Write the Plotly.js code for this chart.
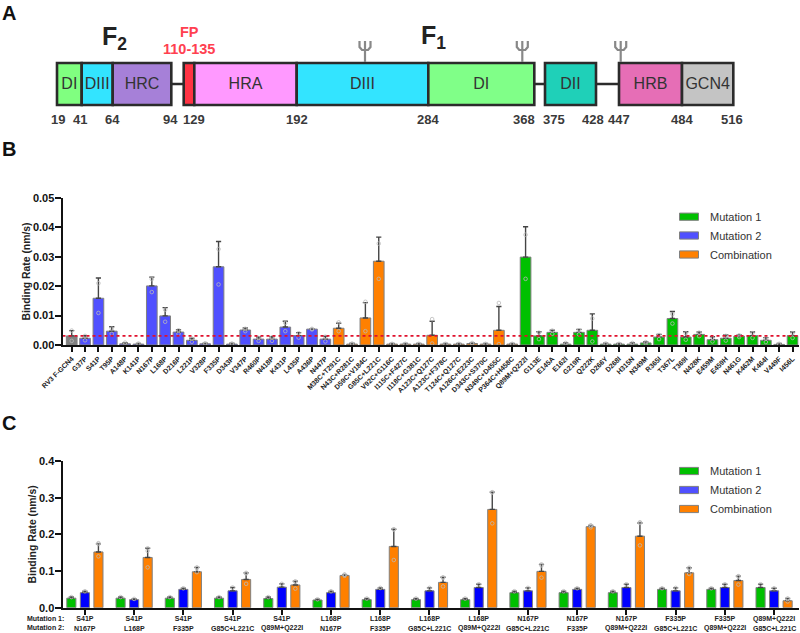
<!DOCTYPE html>
<html>
<head>
<meta charset="utf-8">
<script src="https://cdn.plot.ly/plotly-3.0.1.min.js"></script>
<style>html,body{margin:0;padding:0;background:#fff}#chart{width:800px;height:633px}</style>
</head>
<body>
<div id="chart"></div>
<script>
// ---------- Panel A: construct schematic ----------
const domainLabels = ["DI","DIII","HRC","FP segment","HRA","DIII","DI","DII","HRB","GCN4"];
const domainStart  = [57,81.7,112.7,183.7,194.3,296.7,428.3,545,619,682];
const domainEnd    = [81.7,112.7,171.3,194.3,296.7,428.3,534.3,596,682,733.3];
const domainColors = ["#80ff80","#33e4ff","#a680d8","#ff3344","#ff99ff","#33e4ff","#80ff88","#1fd0b8","#e66eb6","#c4c4c4"];
const linkerStart  = [171.3,534.3,596];
const linkerEnd    = [183.7,545,619];
const glycanSites  = [365,522.3,620.7];
const residueLabels = ["19","41","64","94","129","192","284","368","375","428","447","484","516"];
const residueX      = [58,80,112,170,194,297,428,524,554,593,619,682,732];

// ---------- Panel B: binding rate of single and combination mutants ----------
const bControl = ["RV3 F-GCN4"];
const bControlValues = [0.0031];
const bControlTop = [0.0049];
const bMut2 = ["G37P","S41P","T95P","A148P","K141P","N167P","L168P","D216P","L221P","V328P","F335P","D343P","V347P","R460P","N418P","K431P","L435P","A436P","N447P"];
const bMut2Values = [0.0023,0.0159,0.0047,0.0004,0.0003,0.0201,0.0099,0.0044,0.0016,0.0004,0.0266,0.0003,0.0051,0.0020,0.0020,0.0061,0.0032,0.0054,0.0020];
const bMut2Top    = [0.0032,0.0228,0.0062,0.0008,0.0005,0.0231,0.0127,0.0052,0.0023,0.0006,0.0352,0.0006,0.0058,0.0027,0.0028,0.0081,0.0042,0.0055,0.0030];
const bCombo = ["M38C+T291C","N43C+R281C","D59C+V184C","G85C+L221C","V92C+G116C","I115C+F427C","I118C+G381C","A123C+Q127C","A123C+F378C","T124C+Q127C","A126C+E223C","D343C+S370C","N349C+D455C","P364C+H458C"];
const bComboValues = [0.0057,0.0003,0.0092,0.0285,0.0003,0.0003,0.0003,0.0033,0.0003,0.0003,0.0005,0.0003,0.0050,0.0003];
const bComboTop    = [0.0074,0.0006,0.0144,0.0367,0.0005,0.0005,0.0005,0.0081,0.0005,0.0005,0.0007,0.0005,0.0131,0.0005];
const bMut1 = ["Q89M+Q222I","G113E","E145A","E162I","G219R","Q222K","D266Y","D268I","H315N","N349M","R365I","T367L","T369I","N428K","E459M","E459H","N461G","K462M","K464I","V449F","I456L"];
const bMut1Values = [0.0299,0.0031,0.0043,0.0003,0.0043,0.0050,0.0003,0.0003,0.0003,0.0007,0.0027,0.0090,0.0027,0.0036,0.0018,0.0023,0.0030,0.0032,0.0016,0.0002,0.0032];
const bMut1Top    = [0.0402,0.0045,0.0050,0.0008,0.0053,0.0106,0.0006,0.0005,0.0008,0.0011,0.0036,0.0114,0.0045,0.0044,0.0028,0.0034,0.0034,0.0044,0.0025,0.0005,0.0044];
const bDotsHigh = [0.0049,0.0031,0.0210,0.0056,0.0008,0.0005,0.0224,0.0120,0.0050,0.0022,0.0006,0.0326,0.0005,0.0055,0.0024,0.0026,0.0075,0.0040,0.0055,0.0028,
                   0.0077,0.0005,0.0147,0.0345,0.0004,0.0004,0.0004,0.0088,0.0004,0.0004,0.0007,0.0004,0.0143,0.0004,
                   0.0375,0.0042,0.0049,0.0007,0.0050,0.0090,0.0005,0.0004,0.0007,0.0010,0.0034,0.0105,0.0040,0.0042,0.0024,0.0031,0.0033,0.0040,0.0022,0.0004,0.0040];
const bDotsLow  = [0.0014,0.0016,0.0109,0.0038,0.0002,0.0002,0.0180,0.0079,0.0038,0.0011,0.0002,0.0206,0.0002,0.0047,0.0014,0.0014,0.0047,0.0025,0.0053,0.0012,
                   0.0047,0.0002,0.0047,0.0225,0.0002,0.0002,0.0002,0.0005,0.0002,0.0002,0.0004,0.0002,0.0003,0.0002,
                   0.0225,0.0020,0.0038,0.0002,0.0036,0.0012,0.0002,0.0002,0.0002,0.0005,0.0020,0.0073,0.0018,0.0030,0.0012,0.0015,0.0027,0.0024,0.0010,0.0001,0.0024];
const bThreshold = 0.0031;

// ---------- Panel C: pairs of mutations ----------
const cMut1Names = ["S41P","S41P","S41P","S41P","S41P","L168P","L168P","L168P","L168P","N167P","N167P","N167P","F335P","F335P","Q89M+Q222I"];
const cMut2Names = ["N167P","L168P","F335P","G85C+L221C","Q89M+Q222I","N167P","F335P","G85C+L221C","Q89M+Q222I","G85C+L221C","F335P","Q89M+Q222I","G85C+L221C","Q89M+Q222I","G85C+L221C"];
const cMut1Values  = [0.026,0.026,0.026,0.026,0.025,0.021,0.022,0.022,0.022,0.041,0.041,0.041,0.050,0.050,0.055];
const cMut1Top     = [0.029,0.029,0.029,0.029,0.029,0.023,0.025,0.025,0.025,0.045,0.045,0.045,0.053,0.053,0.064];
const cMut2Values  = [0.041,0.022,0.050,0.046,0.056,0.041,0.050,0.046,0.055,0.046,0.050,0.055,0.046,0.055,0.046];
const cMut2Top     = [0.045,0.024,0.053,0.055,0.065,0.045,0.054,0.054,0.064,0.054,0.053,0.064,0.054,0.064,0.053];
const cComboValues = [0.152,0.137,0.098,0.077,0.062,0.088,0.167,0.069,0.268,0.099,0.221,0.195,0.095,0.074,0.019];
const cComboTop    = [0.174,0.162,0.110,0.095,0.072,0.090,0.214,0.083,0.315,0.118,0.224,0.231,0.109,0.086,0.025];
const cComboDotsHigh = [0.176,0.155,0.108,0.093,0.070,0.090,0.213,0.081,0.314,0.115,0.224,0.233,0.107,0.085,0.024];
const cComboDotsLow  = [0.140,0.110,0.097,0.065,0.052,0.087,0.130,0.058,0.230,0.082,0.219,0.170,0.092,0.063,0.017];

const legendNames = ["Mutation 1","Mutation 2","Combination"];
const bColors = {m1:"#00c000",m2:"#5050ff",co:"#ff8000",ctrl:"#808080"};
const cColors = {m1:"#00c000",m2:"#0000ff",co:"#ff8000"};
const edge = "#808080", ink = "#222222";

// ---------- traces ----------
const traces = [];
const bLabels = bControl.concat(bMut2,bCombo,bMut1);
function addBarB(names,vals,tops,color,start){
  traces.push({type:"bar",x:names.map((_,i)=>start+i),y:vals,width:0.8,
    marker:{color:color,line:{color:edge,width:1}},
    error_y:{type:"data",symmetric:false,array:tops.map((t,i)=>t-vals[i]),arrayminus:vals.map(()=>0),color:"#444",thickness:1.4,width:2.6},
    showlegend:false,hoverinfo:"y",xaxis:"x",yaxis:"y"});
}
addBarB(bControl,bControlValues,bControlTop,bColors.ctrl,0);
addBarB(bMut2,bMut2Values,bMut2Top,bColors.m2,bControl.length);
addBarB(bCombo,bComboValues,bComboTop,bColors.co,bControl.length+bMut2.length);
addBarB(bMut1,bMut1Values,bMut1Top,bColors.m1,bControl.length+bMut2.length+bCombo.length);
const dotStyle={symbol:"circle-open",size:3.6,color:"#b9b9b9",line:{width:0.8,color:"#b9b9b9"}};
traces.push({type:"scatter",mode:"markers",x:bLabels.map((_,i)=>i),y:bDotsHigh,marker:dotStyle,showlegend:false,hoverinfo:"skip",xaxis:"x",yaxis:"y"});
traces.push({type:"scatter",mode:"markers",x:bLabels.map((_,i)=>i),y:bDotsLow,marker:dotStyle,showlegend:false,hoverinfo:"skip",xaxis:"x",yaxis:"y"});
traces.push({type:"scatter",mode:"lines",x:[-0.69,54.46],y:[bThreshold,bThreshold],line:{color:"#e0102c",width:1.6,dash:"dot"},showlegend:false,hoverinfo:"skip",xaxis:"x",yaxis:"y"});

const cIdx = cMut1Names.map((_,i)=>i);
const cStep = 0.275, cWidth = 0.185;
function addBarC(vals,tops,color,off){
  traces.push({type:"bar",x:cIdx.map(i=>i+off),y:vals,width:cWidth,
    marker:{color:color,line:{color:edge,width:1}},
    error_y:{type:"data",symmetric:false,array:tops.map((t,i)=>t-vals[i]),arrayminus:vals.map(()=>0),color:"#444",thickness:1.4,width:2.6},
    showlegend:false,hoverinfo:"y",xaxis:"x2",yaxis:"y2"});
  traces.push({type:"scatter",mode:"markers",x:cIdx.map(i=>i+off),y:tops,marker:dotStyle,showlegend:false,hoverinfo:"skip",xaxis:"x2",yaxis:"y2"});
}
addBarC(cMut1Values,cMut1Top,cColors.m1,-cStep);
addBarC(cMut2Values,cMut2Top,cColors.m2,0);
addBarC(cComboValues,cComboTop,cColors.co,cStep);
traces.push({type:"scatter",mode:"markers",x:cIdx.map(i=>i+cStep),y:cComboDotsHigh,marker:dotStyle,showlegend:false,hoverinfo:"skip",xaxis:"x2",yaxis:"y2"});
traces.push({type:"scatter",mode:"markers",x:cIdx.map(i=>i+cStep),y:cComboDotsLow,marker:dotStyle,showlegend:false,hoverinfo:"skip",xaxis:"x2",yaxis:"y2"});

// schematic (pixel-like axes spanning the page)
const boxMid = 84, boxH = 42;
const linkX=[],linkY=[];
linkerStart.forEach((s,i)=>{linkX.push(s,linkerEnd[i],null);linkY.push(boxMid,boxMid,null);});
traces.push({type:"scatter",mode:"lines",x:linkX,y:linkY,line:{color:"#2b2b2b",width:2.5},showlegend:false,hoverinfo:"skip",xaxis:"x3",yaxis:"y3"});
traces.push({type:"bar",orientation:"h",y:domainLabels.map(()=>boxMid),x:domainEnd.map((e,i)=>e-domainStart[i]),base:domainStart,width:boxH,
  marker:{color:domainColors,line:{color:"#2b2b2b",width:2.6}},showlegend:false,hoverinfo:"skip",xaxis:"x3",yaxis:"y3"});
const labelled = domainLabels.map((_,i)=>i).filter(i=>domainLabels[i]!=="FP segment");
traces.push({type:"scatter",mode:"text",x:labelled.map(i=>(domainStart[i]+domainEnd[i])/2),y:labelled.map(()=>boxMid+1),text:labelled.map(i=>domainLabels[i]),
  textfont:{family:"Liberation Sans",size:16,color:"#333"},showlegend:false,hoverinfo:"skip",xaxis:"x3",yaxis:"y3"});
const gx=[],gy=[];
glycanSites.forEach(s=>{
  gx.push(s,s,null,s-5.5,s-5.5,s-3,s+3,s+5.5,s+5.5,null,s,s,null);
  gy.push(62,49,null,41,47,50,50,47,41,null,50,41,null);
});
traces.push({type:"scatter",mode:"lines",x:gx,y:gy,line:{color:"#888",width:2.2},showlegend:false,hoverinfo:"skip",xaxis:"x3",yaxis:"y3"});

// legends drawn with the same schematic axes
const legendRowsB=[216.7,235.5,254.5], legendRowsC=[471,490,509];
const legendColB=[bColors.m1,bColors.m2,bColors.co], legendColC=[cColors.m1,"#5050ff",cColors.co];
[[legendRowsB,legendColB],[legendRowsC,legendColC]].forEach(([rows,cols])=>{
  traces.push({type:"bar",orientation:"h",y:rows,x:rows.map(()=>19),base:rows.map(()=>679.5),width:7.2,
    marker:{color:cols,line:{color:edge,width:1}},showlegend:false,hoverinfo:"skip",xaxis:"x3",yaxis:"y3"});
});

// ---------- text ----------
const F="Liberation Sans";
const ann=[];
function note(text,x,y,size,opts){
  ann.push(Object.assign({text:text,x:x,y:y,xref:"x3",yref:"y3",showarrow:false,xanchor:"center",yanchor:"middle",
    font:{family:F,size:size,color:ink}},opts||{}));
}
note("<b>A</b>",9,13,20,{font:{family:F,size:20,color:"#111"}});
note("<b>B</b>",9,149,20,{font:{family:F,size:20,color:"#111"}});
note("<b>C</b>",9,423,20,{font:{family:F,size:20,color:"#111"}});
note("<b>F<sub>2</sub></b>",114,38,25);
note("<b>F<sub>1</sub></b>",433,37,25);
note("<b>FP</b>",189,32,14.5,{font:{family:F,size:14.5,color:"#ff4050"}});
note("<b>110-135</b>",189,49,14.5,{font:{family:F,size:14.5,color:"#ff4050"}});
residueLabels.forEach((t,i)=>note("<b>"+t+"</b>",residueX[i],119.5,13,{font:{family:F,size:13,color:"#3a3a3a"}}));
legendNames.forEach((t,i)=>{
  note(t,708,legendRowsB[i],11,{xanchor:"left",font:{family:F,size:11,color:"#333"}});
  note(t,708,legendRowsC[i],11,{xanchor:"left",font:{family:F,size:11,color:"#333"}});
});
note("<b>Mutation 1:</b>",66,618.5,7,{xanchor:"right"});
note("<b>Mutation 2:</b>",66,627.5,7,{xanchor:"right"});
// second row of the panel C category labels
cIdx.forEach(i=>{
  ann.push({text:"<b>"+cMut2Names[i]+"</b>",x:i,xref:"x2",y:628,yref:"y3",showarrow:false,xanchor:"center",yanchor:"middle",
    font:{family:F,size:7,color:"#222"}});
});

function yax(domain,range,dtick,fmt,anchor){
  return {domain:domain,range:range,dtick:dtick,tickformat:fmt,anchor:anchor,showgrid:false,zeroline:false,
    showline:true,linecolor:"#111",linewidth:2,ticks:"outside",ticklen:6,tickwidth:2,tickcolor:"#111",
    ticklabelstandoff:-2,
    tickfont:{family:F,size:11,color:"#111",weight:"bold"},
    title:{text:"<b>Binding Rate (nm/s)</b>",font:{family:F,size:10.4,color:"#222"},standoff:0},fixedrange:true};
}
const xDom=[62.5/800,798.7/800];
const layout={
  width:800,height:633,margin:{l:0,r:0,t:0,b:0,pad:0},paper_bgcolor:"#fff",plot_bgcolor:"rgba(0,0,0,0)",
  showlegend:false,barmode:"overlay",hovermode:false,annotations:ann,
  xaxis:{domain:xDom,range:[-0.69,54.46],anchor:"y",tickmode:"array",tickvals:bLabels.map((_,i)=>i),ticktext:bLabels,tickangle:-45,
    showgrid:false,zeroline:false,showline:true,linecolor:"#111",linewidth:2,ticks:"outside",ticklen:5,tickwidth:2,tickcolor:"#111",
    tickfont:{family:F,size:7,color:"#222",weight:"bold"},fixedrange:true},
  yaxis:yax([(633-345)/633,(633-198)/633],[0,0.05],0.01,".2f","x"),
  xaxis2:{domain:xDom,range:[-0.455,14.5],anchor:"y2",tickmode:"array",tickvals:cIdx,
    ticktext:cMut1Names,tickangle:0,ticklabelstandoff:-2,
    showgrid:false,zeroline:false,showline:true,linecolor:"#111",linewidth:2,ticks:"outside",ticklen:5,tickwidth:2,tickcolor:"#111",
    tickfont:{family:F,size:7,color:"#222",weight:"bold"},fixedrange:true},
  yaxis2:yax([(633-607.7)/633,(633-461)/633],[0,0.4],0.1,".1f","x2"),
  xaxis3:{domain:[0,1],range:[0,800],anchor:"y3",visible:false,fixedrange:true},
  yaxis3:{domain:[0,1],range:[633,0],anchor:"x3",visible:false,fixedrange:true}
};
Plotly.newPlot("chart",traces,layout,{staticPlot:true,displayModeBar:false});
</script>
</body>
</html>
